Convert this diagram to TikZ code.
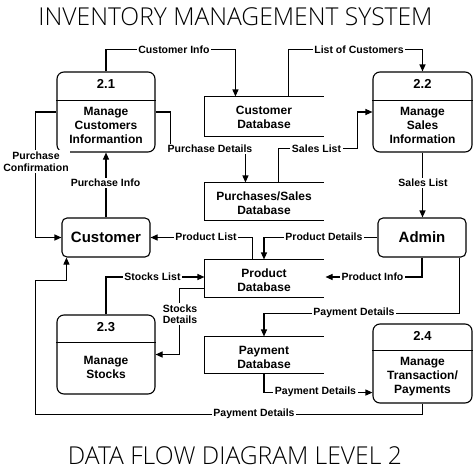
\documentclass[tikz,border=0pt]{standalone}
\usepackage{fontspec}
\setmainfont{Liberation Sans}
\newfontfamily\titlefont{Open Sans Light}
\usetikzlibrary{arrows.meta,calc}
\begin{document}
\begin{tikzpicture}[x=1pt,y=-1pt,
  line width=1.1pt,
  proc/.style={draw,rounded corners=7pt,minimum width=98pt,inner sep=0pt},
  ent/.style={draw,rounded corners=5pt,minimum width=88pt,minimum height=39pt,inner sep=0pt,font=\bfseries\fontsize{15}{17}\selectfont},
  store/.style={minimum width=118pt,inner sep=0pt},
  ptxt/.style={font=\bfseries\fontsize{12}{14}\selectfont,align=center,inner sep=0pt},
  pnum/.style={font=\bfseries\fontsize{13}{15}\selectfont,inner sep=0pt},
  lbl/.style={fill=white,inner sep=1.5pt,font=\bfseries\fontsize{10.5}{11.5}\selectfont,align=center},
  flow/.style={-{Triangle[length=7pt,width=6pt]}},
  plain/.style={}]
\useasboundingbox (0,0) rectangle (474,474);
\fill[white] (0,0) rectangle (474,474);

% titles
\node[inner sep=0pt] (t1) at (235.5,17) {\resizebox{394pt}{!}{\titlefont INVENTORY MANAGEMENT SYSTEM}};
\node[inner sep=0pt] (t2) at (235,456) {\resizebox{334pt}{!}{\titlefont DATA FLOW DIAGRAM LEVEL 2}};

% processes
\node[proc,minimum height=80pt] (p21) at (106,112) {};
\draw ($(p21.north west)+(0,29)$) -- ($(p21.north east)+(0,29)$);
\node[pnum] (n21) at (106,84) {2.1};
\node[ptxt] (x21) at (106,125) {Manage\\Customers\\Informantion};

\node[proc,minimum width=99pt,minimum height=80pt] (p22) at (422.5,112) {};
\draw ($(p22.north west)+(0,29)$) -- ($(p22.north east)+(0,29)$);
\node[pnum] (n22) at (422.5,84) {2.2};
\node[ptxt] (x22) at (422.5,125) {Manage\\Sales\\Information};

\node[proc,minimum height=79pt] (p23) at (106,354.5) {};
\draw ($(p23.north west)+(0,28)$) -- ($(p23.north east)+(0,28)$);
\node[pnum] (n23) at (106,327) {2.3};
\node[ptxt] (x23) at (106,367) {Manage\\Stocks};

\node[proc,minimum width=99pt,minimum height=79pt] (p24) at (422.5,363.5) {};
\draw ($(p24.north west)+(0,27)$) -- ($(p24.north east)+(0,27)$);
\node[pnum] (n24) at (422.5,336) {2.4};
\node[ptxt] (x24) at (422.5,376.5) {Manage\\Transaction/\\Payments};

% entities
\node[ent] (cust) at (106,237.5) {Customer};
\node[ent] (admin) at (422,237.5) {Admin};

% data stores
\node[store,minimum height=39pt] (cdb) at (264,116.5) {};
\node[store,minimum height=37pt] (psdb) at (264,201.5) {};
\node[store,minimum height=37pt] (pdb) at (264,278.5) {};
\node[store,minimum height=36pt] (paydb) at (264,355) {};
\foreach \s in {cdb,psdb,pdb,paydb}{
  \draw (\s.north east) -- (\s.north west) -- (\s.south west) -- (\s.south east);
}
\node[ptxt] (xc) at (264,117.5) {Customer\\Database};
\node[ptxt] (xps) at (264,203.5) {Purchases/Sales\\Database};
\node[ptxt] (xpd) at (264,280) {Product\\Database};
\node[ptxt] (xpy) at (264,357) {Payment\\Database};

% flows
\draw[flow] (p21.north) -- ++(0,-22) -| ($(cdb.north west)+(31,0)$);
\draw[flow] ($(cdb.north west)+(84,0)$) -- ++(0,-47) -| (p22.north);
\draw[flow] (p21.east) -- ++(15,0) -- ++(0,37) -| ($(psdb.north west)+(41,0)$);
\draw[flow] ($(psdb.north west)+(74,0)$) -- ++(0,-34) -- ++(79,0) |- (p22.west);
\draw[flow] (p22.south) -- (p22.south |- admin.north);
\draw[flow] (p21.west) -- ++(-21,0) |- (cust.west);
\draw[flow] (cust.north) -- (p21.south);
\draw[flow] ($(pdb.north west)+(48,0)$) |- (cust.east);
\draw[flow] (admin.west) -| (pdb.north);
\draw[flow] (admin.south) |- ($(pdb.east)+(2,-1.5)$);
\draw[flow] (p23.north) |- ($(pdb.west)+(0,-1.5)$);
\draw[flow] ($(pdb.south west)+(0,-9)$) -- ++(-25,0) |- (p23.east);
\draw[flow] (p24.south) -- ++(0,11) -| ($(cust.south west)+(-26,23)$) -| ($(cust.south west)+(5,0)$);
\draw[flow] ($(admin.south east)+(-7,0)$) -- ++(0,56) -| (paydb.north);
\draw[flow] (paydb.south) |- ($(p24.south west)+(0,-11)$);

% labels
\node[lbl] (l1) at (174,50) {Customer Info};
\node[lbl] (l2) at (359,50) {List of Customers};
\node[lbl] (l3) at (210,149) {Purchase Details};
\node[lbl] (l4) at (316.5,149) {Sales List};
\node[lbl] (l5) at (423,183) {Sales List};
\node[lbl] (l6) at (36,161.5) {Purchase\\Confirmation};
\node[lbl] (l7) at (105.5,183) {Purchase Info};
\node[lbl] (l8) at (206,237) {Product List};
\node[lbl] (l9) at (324,237) {Product Details};
\node[lbl] (l10) at (372.5,277) {Product Info};
\node[lbl] (l11) at (152.5,277) {Stocks List};
\node[lbl] (l12) at (180,314) {Stocks\\Details};
\node[lbl] (l13) at (354,313) {Payment Details};
\node[lbl] (l14) at (315.5,392) {Payment Details};
\node[lbl] (l15) at (254,413.5) {Payment Details};
\end{tikzpicture}
\end{document}
